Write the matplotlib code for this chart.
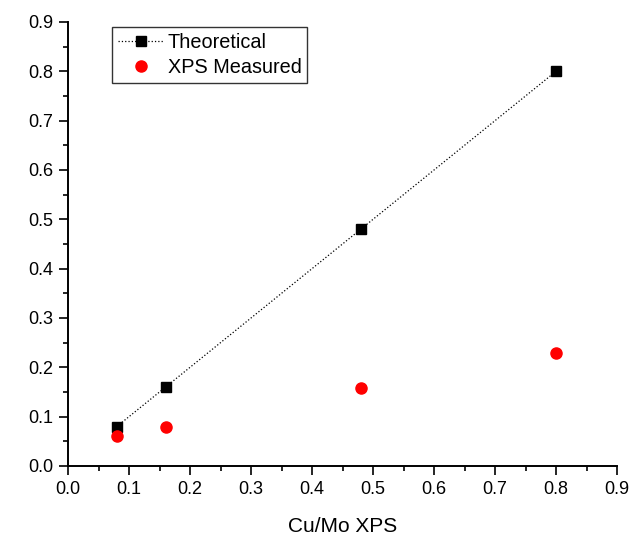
import matplotlib
matplotlib.use("Agg")
import matplotlib.pyplot as plt
from matplotlib.ticker import MultipleLocator

plt.rcParams['font.family'] = ['Liberation Sans', 'DejaVu Sans']

# Cu/Mo ratios
x_ratio = [0.08, 0.16, 0.48, 0.80]
theoretical = [0.08, 0.16, 0.48, 0.80]
xps_measured = [0.06, 0.08, 0.158, 0.23]

fig = plt.figure(figsize=(6.36, 5.36), dpi=100)
ax = fig.add_axes([68 / 636, 1 - 466 / 536, (617 - 68) / 636, (466 - 22) / 536])

ax.plot(x_ratio, theoretical, color='black', linestyle=':', linewidth=0.9,
        marker='s', markersize=7.5, label='Theoretical')
ax.plot(x_ratio, xps_measured, color='red', linestyle='none',
        marker='o', markersize=8, label='XPS Measured')

ax.set_xlim(0, 0.9)
ax.set_ylim(0, 0.9)
ax.xaxis.set_major_locator(MultipleLocator(0.1))
ax.xaxis.set_minor_locator(MultipleLocator(0.05))
ax.yaxis.set_major_locator(MultipleLocator(0.1))
ax.yaxis.set_minor_locator(MultipleLocator(0.05))
ax.xaxis.set_major_formatter(plt.FormatStrFormatter('%.1f'))
ax.yaxis.set_major_formatter(plt.FormatStrFormatter('%.1f'))

for side in ['top', 'right']:
    ax.spines[side].set_visible(False)
for side in ['left', 'bottom']:
    ax.spines[side].set_linewidth(1.4)

ax.tick_params(which='major', direction='out', length=6.5, width=1.2,
               labelsize=13, pad=4)
ax.tick_params(which='minor', direction='out', length=3.5, width=1.2)

ax.set_xlabel('Cu/Mo XPS', fontsize=15, labelpad=14)

leg = ax.legend(loc='upper left', bbox_to_anchor=(44 / 549, 1 - 5 / 444),
                fontsize=14.3, frameon=True, fancybox=False, edgecolor='black',
                borderpad=0.3, handlelength=2.3, handletextpad=0.2,
                labelspacing=0.3, borderaxespad=0)
leg.get_frame().set_linewidth(1.0)

fig.savefig('out.png', dpi=100)
